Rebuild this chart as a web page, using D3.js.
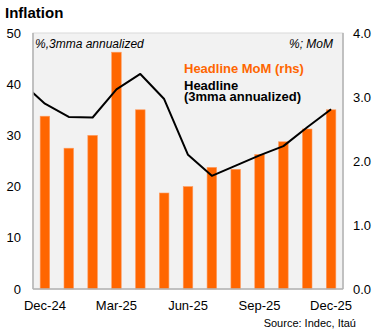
<!DOCTYPE html>
<html>
<head>
<meta charset="utf-8">
<script src="https://cdn.jsdelivr.net/npm/d3@7"></script>
<style>
  body { margin: 0; background: #fff; }
  svg { font-family: "Liberation Sans", Arial, sans-serif; }
</style>
</head>
<body>
<svg id="mainsvg" width="375" height="336"></svg>
<script>
// months shown on the category axis
const months = ['Dec-24','Jan-25','Feb-25','Mar-25','Apr-25','May-25','Jun-25',
                'Jul-25','Aug-25','Sep-25','Oct-25','Nov-25','Dec-25'];
// headline MoM, % (right axis)
const momValues = [2.7, 2.2, 2.4, 3.7, 2.8, 1.5, 1.6, 1.9, 1.87, 2.1, 2.3, 2.5, 2.8];
// headline 3mma annualized, % (left axis) - starts one month earlier, clipped by the plot
const lineMonths = ['Nov-24'].concat(months);
const mmaValues = [40.4, 36.2, 33.6, 33.5, 39.0, 42.0, 37.1, 26.2, 22.1, 24.1, 26.1, 27.9, 31.6, 35.1];
const xTickLabels = ['Dec-24','Mar-25','Jun-25','Sep-25','Dec-25'];
const leftTicks = [0, 10, 20, 30, 40, 50];
const rightTicks = [0, 1, 2, 3, 4];

const svg = d3.select('#mainsvg');
const plot = {left: 33, right: 343, top: 33, bottom: 289};

// scales
const x = d3.scaleBand().domain(months).range([plot.left, plot.right])
  .paddingInner(0.6).paddingOuter(0.3);
const step = x.step();
const firstCenter = x(months[0]) + x.bandwidth() / 2;
const xLine = d3.scalePoint().domain(lineMonths)
  .range([firstCenter - step, firstCenter + step * months.length - step]);
const yLeft = d3.scaleLinear().domain([0, 50]).range([plot.bottom, plot.top]);
const yRight = d3.scaleLinear().domain([0, 4]).range([plot.bottom, plot.top]);

// title
svg.append('text').attr('x', 5).attr('y', 18)
  .style('font-size', '15px').style('font-weight', 'bold').text('Inflation');

// plot background
svg.append('rect')
  .attr('x', plot.left).attr('y', plot.top)
  .attr('width', plot.right - plot.left).attr('height', plot.bottom - plot.top)
  .attr('fill', '#f2f2f2').attr('stroke', '#d9d9d9');

svg.append('clipPath').attr('id', 'clip').append('rect')
  .attr('x', plot.left).attr('y', plot.top)
  .attr('width', plot.right - plot.left).attr('height', plot.bottom - plot.top);

// bars
svg.append('g').selectAll('rect').data(momValues).join('rect')
  .attr('x', (d, i) => x(months[i]))
  .attr('y', d => yRight(d))
  .attr('width', x.bandwidth())
  .attr('height', d => yRight(0) - yRight(d))
  .attr('fill', '#ff6600')
  .attr('stroke', '#ff9a5c').attr('stroke-width', 0.6);

// line
const line = d3.line().x((d, i) => xLine(lineMonths[i])).y(d => yLeft(d));
svg.append('path').datum(mmaValues)
  .attr('clip-path', 'url(#clip)')
  .attr('d', line)
  .attr('fill', 'none').attr('stroke', '#000').attr('stroke-width', 2)
  .attr('stroke-linejoin', 'round');

// axis frame lines
svg.append('line').attr('x1', plot.left).attr('x2', plot.left)
  .attr('y1', plot.top).attr('y2', plot.bottom).attr('stroke', '#b3b3b3').attr('stroke-width', 1.5);
svg.append('line').attr('x1', plot.right).attr('x2', plot.right)
  .attr('y1', plot.top).attr('y2', plot.bottom).attr('stroke', '#b3b3b3').attr('stroke-width', 1.5);
svg.append('line').attr('x1', plot.left).attr('x2', plot.right)
  .attr('y1', plot.bottom).attr('y2', plot.bottom).attr('stroke', '#b3b3b3').attr('stroke-width', 1.5);

// axes
const gLeft = svg.append('g').attr('transform', `translate(${plot.left},0)`)
  .call(d3.axisLeft(yLeft).tickValues(leftTicks).tickSize(0).tickPadding(12));
const gRight = svg.append('g').attr('transform', `translate(${plot.right},0)`)
  .call(d3.axisRight(yRight).tickValues(rightTicks).tickSize(0).tickPadding(10).tickFormat(d3.format('.1f')));
const gBottom = svg.append('g').attr('transform', `translate(0,${plot.bottom})`)
  .call(d3.axisBottom(x).tickValues(xTickLabels).tickSize(0).tickPadding(12));
[gLeft, gRight, gBottom].forEach(g => {
  g.select('.domain').remove();
  g.selectAll('text').style('font-size', '13px').style('font-family', '"Liberation Sans", Arial, sans-serif').attr('fill', '#000');
});

// unit notes
svg.append('text').attr('x', 35).attr('y', 48)
  .style('font-size', '12px').style('font-style', 'italic').text('%,3mma annualized');
svg.append('text').attr('x', 333).attr('y', 48).attr('text-anchor', 'end')
  .style('font-size', '12px').style('font-style', 'italic').text('%; MoM');

// legend labels
svg.append('text').attr('x', 184).attr('y', 72.5)
  .style('font-size', '13px').style('font-weight', 'bold').attr('fill', '#ff6600')
  .text('Headline MoM (rhs)');
svg.append('text').attr('x', 184).attr('y', 90)
  .style('font-size', '13px').style('font-weight', 'bold').text('Headline');
svg.append('text').attr('x', 184).attr('y', 101)
  .style('font-size', '13px').style('font-weight', 'bold').text('(3mma annualized)');

// source
svg.append('text').attr('x', 356).attr('y', 327).attr('text-anchor', 'end')
  .style('font-size', '11px').text('Source: Indec, Itaú');
</script>
</body>
</html>
